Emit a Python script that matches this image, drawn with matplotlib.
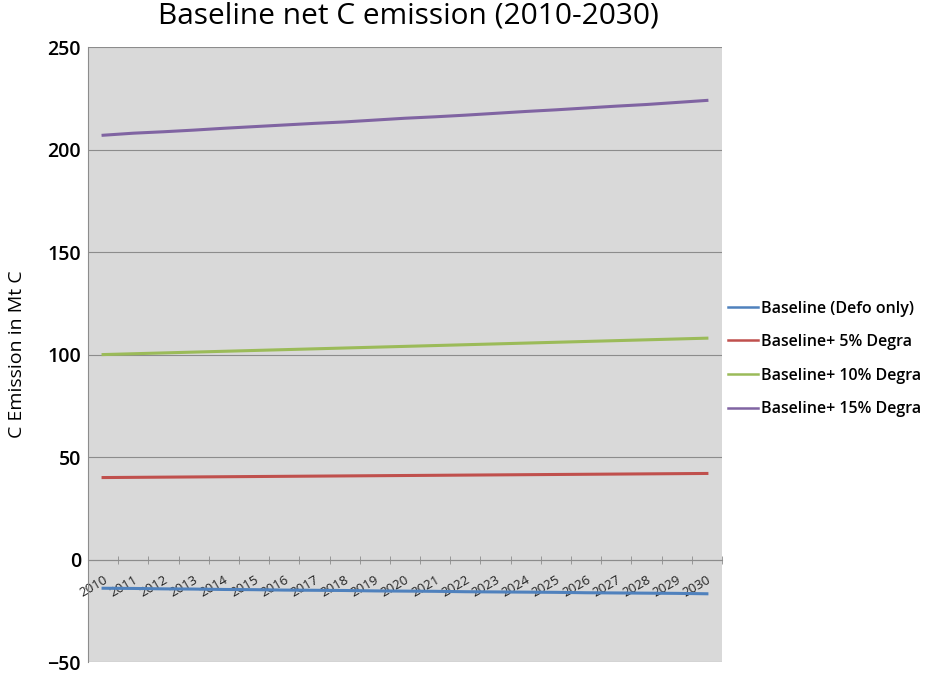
import matplotlib.pyplot as plt
import numpy as np

# Data
years = [str(y) for y in range(2010, 2031)]
defo_only = [-14, -14.1, -14.3, -14.4, -14.6, -14.7, -14.9, -15, -15.1, -15.3, -15.4,
             -15.5, -15.7, -15.8, -15.9, -16, -16.2, -16.3, -16.4, -16.5, -16.7]
degra_5 = [40, 40.1, 40.2, 40.3, 40.4, 40.5, 40.6, 40.7, 40.8, 40.9, 41,
           41.1, 41.2, 41.3, 41.4, 41.5, 41.6, 41.7, 41.8, 41.9, 42]
degra_10 = [100, 100.4, 100.8, 101.2, 101.6, 102, 102.4, 102.8, 103.2, 103.6, 104,
            104.4, 104.8, 105.2, 105.6, 106, 106.4, 106.8, 107.2, 107.6, 108]
degra_15 = [207, 208, 208.7, 209.5, 210.4, 211.2, 212, 212.8, 213.5, 214.4, 215.3,
            216, 216.8, 217.7, 218.6, 219.4, 220.3, 221.2, 222, 223, 224]

series = [
    ('Baseline (Defo only)', defo_only, '#4F81BD'),
    ('Baseline+ 5% Degra', degra_5, '#C0504D'),
    ('Baseline+ 10% Degra', degra_10, '#9BBB59'),
    ('Baseline+ 15% Degra', degra_15, '#8064A2'),
]

plt.rcParams['font.family'] = ['Open Sans', 'DejaVu Sans']

fig = plt.figure(figsize=(9.38, 6.73), dpi=100)
ax = fig.add_axes([0.0938, 0.0163, 0.6759, 0.9137])
ax.set_facecolor('#d9d9d9')

x = np.arange(len(years))
for label, vals, color in series:
    ax.plot(x, vals, color=color, linewidth=2.2, label=label)

ax.set_xlim(-0.5, len(years) - 0.5)
ax.set_ylim(-50, 250)
ax.set_yticks(range(-50, 251, 50))
ax.grid(axis='y', color='#8c8c8c', linewidth=0.8)
ax.set_axisbelow(True)

# category axis crosses at zero
ax.spines['bottom'].set_position(('data', 0))
ax.spines['bottom'].set_color('#8c8c8c')
ax.spines['left'].set_color('#8c8c8c')
ax.spines['top'].set_visible(False)
ax.spines['right'].set_visible(False)

ax.set_xticks(x)
ax.set_xticklabels(years, rotation=30, ha='right', rotation_mode='anchor',
                   fontsize=9.5, color='#222222')
ax.tick_params(axis='x', which='major', length=0, pad=10)
ax.set_xticks(np.arange(-0.5, len(years), 1), minor=True)
ax.tick_params(axis='x', which='minor', length=6, direction='inout', color='#8c8c8c')
ax.tick_params(axis='y', length=0, labelsize=14, pad=5)
for t in ax.get_yticklabels():
    t.set_fontweight('semibold')

ax.set_ylabel('C Emission in Mt C', fontsize=14, labelpad=6)
ax.yaxis.set_label_coords(-0.097, 0.5)
fig.suptitle('Baseline net C emission (2010-2030)', fontsize=21.5, x=0.435, y=0.998)

leg = ax.legend(loc='center left', bbox_to_anchor=(1.009, 0.493), frameon=False,
                fontsize=11.5, handlelength=1.9, handletextpad=0.2, labelspacing=1.1,
                borderaxespad=0, borderpad=0)
for t in leg.get_texts():
    t.set_fontweight('semibold')
for h in leg.get_lines():
    h.set_linewidth(1.8)

fig.savefig('out.png', dpi=100)
